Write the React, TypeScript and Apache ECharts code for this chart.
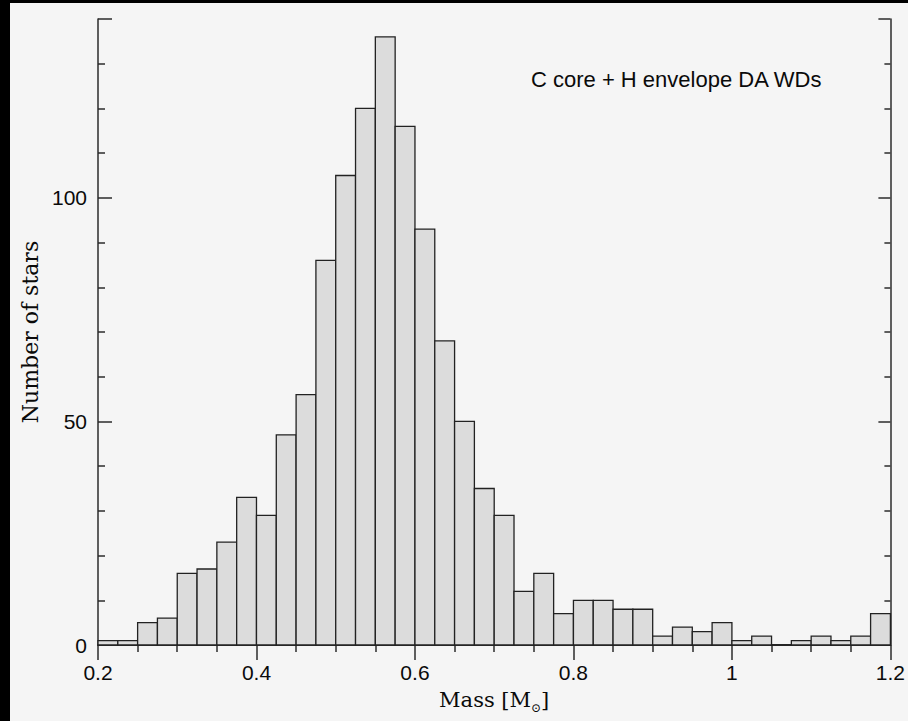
import React, { useEffect, useRef } from "react";
import * as echarts from "echarts";

// Histogram of white-dwarf masses (bin width 0.025 Msun, from 0.2 to 1.2)
const binStart = 0.2;
const binWidth = 0.025;
const counts: number[] = [
  1, 1, 5, 6, 16, 17, 23, 33, 29, 47,
  56, 86, 105, 120, 136, 116, 93, 68, 50, 35,
  29, 12, 16, 7, 10, 10, 8, 8, 2, 4,
  3, 5, 1, 2, 0, 1, 2, 1, 2, 7,
];
const xTickLabels = ["0.2", "0.4", "0.6", "0.8", "1", "1.2"];
const yTickLabels = ["0", "50", "100"];
const titleText = "C core + H envelope DA WDs";
const yName = "Number of stars";

export default function App() {
  const ref = useRef<HTMLDivElement>(null);

  useEffect(() => {
    if (!ref.current) return;
    const chart = echarts.init(ref.current, undefined, { renderer: "svg" });
    const data = counts.map((c, i) => {
      const lo = binStart + i * binWidth;
      return [lo, lo + binWidth, c];
    });
    const axisColor = "#2b2b2b";
    const labelFont = "'Liberation Sans', Arial, Helvetica, sans-serif";
    const serif = "'DejaVu Serif', serif";
    const fmtX = (v: number) => {
      const s = String(Math.round(v * 1000) / 1000);
      return xTickLabels.includes(s) ? s : "";
    };
    const fmtY = (v: number) => {
      const s = String(Math.round(v));
      return yTickLabels.includes(s) ? s : "";
    };
    chart.setOption({
      animation: false,
      backgroundColor: "#f5f5f5",
      grid: { left: 88, right: 12, top: 16, bottom: 76, containLabel: false },
      graphic: [
        {
          type: "text",
          left: 521,
          top: 65,
          style: {
            text: titleText,
            fontSize: 22,
            fontFamily: labelFont,
            fill: "#0a0a0a",
          },
        },
      ],
      xAxis: [
        {
          type: "value",
          position: "bottom",
          min: 0.2,
          max: 1.2,
          interval: 0.2,
          axisLine: { show: true, lineStyle: { color: axisColor, width: 1.5 } },
          axisTick: { show: false },
          minorTick: { show: false },
          splitLine: { show: false },
          axisLabel: {
            formatter: fmtX,
            fontSize: 21,
            color: "#0a0a0a",
            fontFamily: labelFont,
            margin: 17,
          },
          name: "{a|Mass [M}{s|⊙}{a|]}",
          nameLocation: "middle",
          nameGap: 43,
          nameTextStyle: {
            rich: {
              a: { fontSize: 21, fontFamily: serif, color: "#0a0a0a", lineHeight: 24, verticalAlign: "top" },
              s: { fontSize: 12, fontFamily: serif, color: "#0a0a0a", lineHeight: 12, padding: [14, 0, 0, 0], verticalAlign: "bottom" },
            },
          },
        },
        {
          type: "value",
          position: "top",
          min: 0.2,
          max: 1.2,
          interval: 0.2,
          axisLine: { show: true, lineStyle: { color: axisColor, width: 1.5 } },
          axisTick: { show: true, inside: true, length: 15, lineStyle: { color: axisColor, width: 1.5 } },
          minorTick: { show: true, splitNumber: 4, length: 7, lineStyle: { color: axisColor, width: 1.5 } },
          splitLine: { show: false },
          axisLabel: { show: false },
        },
      ],
      yAxis: [
        {
          type: "value",
          position: "left",
          min: 0,
          max: 140,
          interval: 50,
          axisLine: { show: true, lineStyle: { color: axisColor, width: 1.5 } },
          axisTick: { show: true, inside: true, length: 14, lineStyle: { color: axisColor, width: 1.5 } },
          minorTick: { show: true, splitNumber: 5, length: 7, lineStyle: { color: axisColor, width: 1.5 } },
          splitLine: { show: false },
          axisLabel: {
            formatter: fmtY,
            fontSize: 21,
            color: "#0a0a0a",
            fontFamily: labelFont,
            margin: 11,
          },
          name: yName,
          nameLocation: "middle",
          nameGap: 54,
          nameRotate: 90,
          nameTextStyle: { fontSize: 22, fontFamily: serif, color: "#0a0a0a" },
        },
        {
          type: "value",
          position: "right",
          min: 0,
          max: 140,
          interval: 50,
          axisLine: { show: true, lineStyle: { color: axisColor, width: 1.5 } },
          axisTick: { show: true, inside: true, length: 12, lineStyle: { color: axisColor, width: 1.5 } },
          minorTick: { show: true, splitNumber: 5, length: 6, lineStyle: { color: axisColor, width: 1.5 } },
          splitLine: { show: false },
          axisLabel: { show: false },
        },
      ],
      series: [
        {
          type: "custom",
          xAxisIndex: 0,
          yAxisIndex: 0,
          encode: { x: [0, 1], y: 2 },
          data,
          renderItem: (params: any, api: any) => {
            const p0 = api.coord([api.value(0), 0]);
            const p1 = api.coord([api.value(1), api.value(2)]);
            return {
              type: "rect",
              shape: { x: p0[0], y: p1[1], width: p1[0] - p0[0], height: p0[1] - p1[1] },
              style: { fill: "#dcdcdc", stroke: "#222", lineWidth: 1.3 },
            };
          },
        },
      ],
    });
    return () => chart.dispose();
  }, []);

  return (
    <div
      style={{
        position: "fixed",
        left: 0,
        top: 0,
        width: 908,
        height: 721,
        background: "#000",
        overflow: "hidden",
      }}
    >
      <div
        ref={ref}
        style={{ position: "absolute", left: 10, top: 3, width: 898, height: 718 }}
      />
    </div>
  );
}
